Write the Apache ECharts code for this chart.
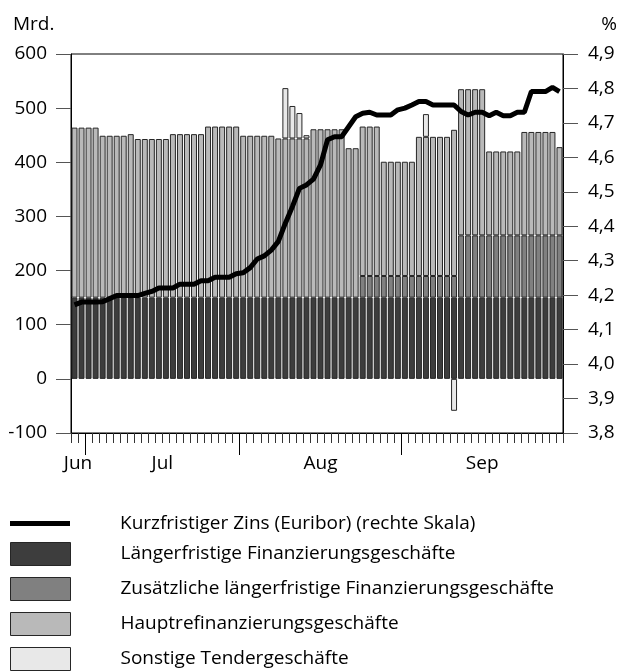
<!DOCTYPE html>
<html>
<head>
<meta charset="utf-8">
<script src="https://cdn.jsdelivr.net/npm/echarts@6/dist/echarts.min.js"></script>
<style>
  html, body { margin: 0; padding: 0; background: #fff; }
  #chart { width: 626px; height: 672px; }
</style>
</head>
<body>
<div id="chart"></div>
<script>
// Handelstage je Monat (Balken von links nach rechts)
const months = ['Jun', 'Jul', 'Aug', 'Sep'];
const monthDays = [2, 22, 23, 23];

// Mrd. Euro
const laengerfristig = [
  150, 150, 150, 150, 150, 150, 150, 150, 150, 150,
  150, 150, 150, 150, 150, 150, 150, 150, 150, 150,
  150, 150, 150, 150, 150, 150, 150, 150, 150, 150,
  150, 150, 150, 150, 150, 150, 150, 150, 150, 150,
  150, 150, 150, 150, 150, 150, 150, 150, 150, 150,
  150, 150, 150, 150, 150, 150, 150, 150, 150, 150,
  150, 150, 150, 150, 150, 150, 150, 150, 150, 150
];
const zusaetzlich = [
  null, null, null, null, null, null, null, null, null, null,
  null, null, null, null, null, null, null, null, null, null,
  null, null, null, null, null, null, null, null, null, null,
  null, null, null, null, null, null, null, null, null, null,
  null, 40, 40, 40, 40, 40, 40, 40, 40, 40,
  40, 40, 40, 40, 40, 115, 115, 115, 115, 115,
  115, 115, 115, 115, 115, 115, 115, 115, 115, 115
];
const hauptrefi = [
  314, 314, 314, 314, 299, 299, 299, 299, 302, 293,
  293, 293, 293, 293, 302, 302, 302, 302, 302, 316,
  316, 316, 316, 316, 299, 299, 299, 299, 299, 294,
  294, 294, 294, 294, 311, 311, 311, 311, 311, 276,
  276, 276, 276, 276, 211, 211, 211, 211, 211, 257,
  257, 257, 257, 257, 270, 270, 270, 270, 270, 155,
  155, 155, 155, 155, 191, 191, 191, 191, 191, 163
];
const sonstige = [
  null, null, null, null, null, null, null, null, null, null,
  null, null, null, null, null, null, null, null, null, null,
  null, null, null, null, null, null, null, null, null, null,
  93, 60, 47, 6, null, null, null, null, null, null,
  null, null, null, null, null, null, null, null, null, null,
  42, null, null, null, -59, null, null, null, null, null,
  null, null, null, null, null, null, null, null, null, null
];
// Prozent
const euribor = [
  4.172, 4.180, 4.180, 4.180, 4.181, 4.190, 4.199, 4.199, 4.199, 4.199,
  4.205, 4.211, 4.221, 4.221, 4.221, 4.232, 4.232, 4.232, 4.242, 4.242,
  4.252, 4.252, 4.252, 4.262, 4.265, 4.280, 4.305, 4.314, 4.331, 4.356,
  4.409, 4.457, 4.510, 4.520, 4.537, 4.578, 4.651, 4.660, 4.660, 4.689,
  4.718, 4.728, 4.731, 4.723, 4.723, 4.723, 4.738, 4.743, 4.752, 4.762,
  4.762, 4.752, 4.752, 4.752, 4.752, 4.733, 4.723, 4.731, 4.731, 4.721,
  4.731, 4.721, 4.721, 4.731, 4.731, 4.791, 4.791, 4.791, 4.803, 4.791
];

const names = [
  'Kurzfristiger Zins (Euribor) (rechte Skala)',
  'Längerfristige Finanzierungsgeschäfte',
  'Zusätzliche längerfristige Finanzierungsgeschäfte',
  'Hauptrefinanzierungsgeschäfte',
  'Sonstige Tendergeschäfte'
];

// Kategorien: ein Eintrag je Handelstag
const days = [];
months.forEach((m, mi) => {
  for (let d = 1; d <= monthDays[mi]; d++) days.push(m + ' ' + d);
});

// Hilfsachse in halben Tagesschritten: Monatsnamen mittig, lange Striche an Monatsgrenzen
const half = [];
for (let k = 0; k <= days.length * 2; k++) half.push('');
const labelIdx = [];
const longTickIdx = [];
let start = 0;
months.forEach((m, mi) => {
  const k = 2 * start + monthDays[mi];
  half[k] = m;
  labelIdx.push(k);
  if (start > 0) longTickIdx.push(2 * start);
  start += monthDays[mi];
});

const FONT = 'Open Sans';
const FS = 19;
const LFS = 19;
const border = { borderColor: '#262626', borderWidth: 1 };

const chart = echarts.init(document.getElementById('chart'));
chart.setOption({
  animation: false,
  textStyle: { fontFamily: FONT },
  title: [
    { text: 'Mrd.', left: 8, top: 10, textStyle: { fontSize: FS, fontWeight: 'normal', color: '#000', fontFamily: FONT } },
    { text: '%', right: 4, top: 10, textStyle: { fontSize: FS, fontWeight: 'normal', color: '#000', fontFamily: FONT } }
  ],
  grid: { left: 71, right: 63, top: 54, bottom: 239, show: true, borderColor: '#000', borderWidth: 1, backgroundColor: 'transparent' },
  legend: [
    {
      orient: 'vertical', left: 10, top: 514, padding: 0, itemWidth: 60, itemHeight: 23,
      data: [{ name: names[0], icon: 'path://M0,0H60V5H0Z' }],
      textStyle: { fontSize: LFS, color: '#000', fontFamily: FONT, padding: [0, 0, 0, 45] }
    },
    {
      orient: 'vertical', left: 10, top: 542, padding: 0, itemWidth: 60, itemHeight: 23, itemGap: 11,
      icon: 'rect',
      data: names.slice(1),
      itemStyle: { borderColor: '#262626', borderWidth: 1 },
      textStyle: { fontSize: LFS, color: '#000', fontFamily: FONT, padding: [0, 0, 0, 45] }
    }
  ],
  xAxis: [
    {
      type: 'category', data: days, position: 'bottom',
      axisLine: { show: true, onZero: false, lineStyle: { color: '#000', width: 1 } },
      axisTick: { show: true, interval: 0, length: 10, lineStyle: { color: '#333' } },
      axisLabel: { show: false }
    },
    {
      type: 'category', data: half, position: 'bottom', boundaryGap: false,
      axisLine: { show: false, onZero: false },
      axisTick: { show: true, interval: (i) => longTickIdx.includes(i), length: 22, lineStyle: { color: '#000' } },
      axisLabel: { interval: (i) => labelIdx.includes(i), fontSize: FS, color: '#000', margin: 21, fontFamily: FONT }
    }
  ],
  yAxis: [
    {
      type: 'value', min: -100, max: 600, interval: 100, position: 'left',
      axisLine: { show: true, onZero: false, lineStyle: { color: '#000' } },
      axisTick: { show: true, length: 15, lineStyle: { color: '#555' } },
      axisLabel: { fontSize: FS, color: '#000', margin: 24, fontFamily: FONT },
      splitLine: { show: false }
    },
    {
      type: 'value', min: 3.8, max: 4.9, interval: 0.1, position: 'right',
      axisLine: { show: true, onZero: false, lineStyle: { color: '#000' } },
      axisTick: { show: true, length: 15, lineStyle: { color: '#555' } },
      axisLabel: { fontSize: FS, color: '#000', margin: 25, fontFamily: FONT, formatter: (v) => v.toFixed(1).replace('.', ',') },
      splitLine: { show: false }
    }
  ],
  series: [
    {
      name: names[1], type: 'bar', stack: 'op', data: laengerfristig,
      barCategoryGap: '15%', itemStyle: Object.assign({ color: '#3d3d3d' }, border)
    },
    {
      name: names[2], type: 'bar', stack: 'op', data: zusaetzlich,
      itemStyle: Object.assign({ color: '#808080' }, border)
    },
    {
      name: names[3], type: 'bar', stack: 'op', data: hauptrefi,
      itemStyle: Object.assign({ color: '#b9b9b9' }, border)
    },
    {
      name: names[4], type: 'bar', stack: 'op', data: sonstige,
      itemStyle: Object.assign({ color: '#e8e8e8' }, border)
    },
    {
      name: names[0], type: 'line', yAxisIndex: 1, data: euribor,
      symbol: 'none', itemStyle: { color: '#000' },
      lineStyle: { color: '#000', width: 5 }, z: 5
    }
  ]
});
</script>
</body>
</html>
